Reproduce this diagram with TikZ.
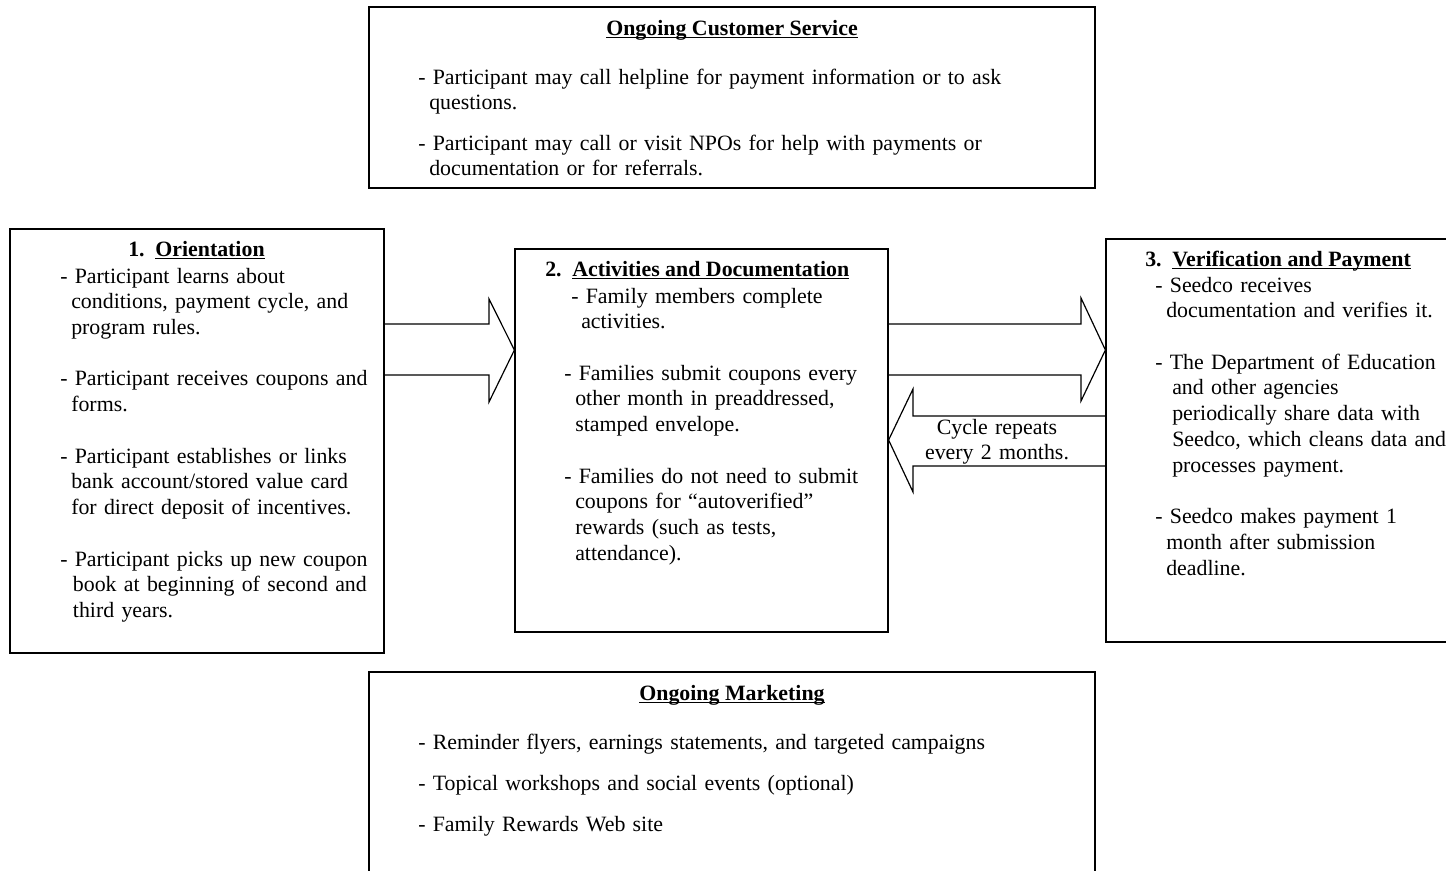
\documentclass[tikz,border=0pt]{standalone}
\usepackage{fontspec}
\setmainfont{Liberation Serif}
\usetikzlibrary{fit}
\newcommand\myul[1]{\setbox0\hbox{#1}\rlap{\rule[-2.4pt]{\wd0}{0.9pt}}\box0}
\newcommand\bodyfont{\fontsize{16.4}{19.3}\selectfont}
\begin{document}
\begin{tikzpicture}[x=0.75pt,y=-0.75pt,
  box/.style={draw,line width=0.9pt,inner sep=0pt},
  txt/.style={anchor=base west,inner sep=0pt,align=left,font=\bodyfont},
  ttl/.style={anchor=base west,inner sep=0pt,font=\bodyfont\bfseries},
  arr/.style={draw,line width=0.9pt,line join=miter}]
\useasboundingbox (0,0) rectangle (1446,871);

% boxes
\node[box,fit={(369,7)(1095,188)}] (cs) {};
\node[box,fit={(10,229)(384,653)}] (ori) {};
\node[box,fit={(515,249)(888,632)}] (act) {};
\node[box,fit={(1106,239)(1452,642)}] (ver) {};
\node[box,fit={(369,672)(1095,880)}] (mkt) {};

% titles
\node[ttl,anchor=base] (cst) at (732,35) {\myul{Ongoing Customer Service}};
\node[ttl,anchor=base] (mktt) at (732,700) {\myul{Ongoing Marketing}};
\node[ttl] (ot) at (128,256) {1.\hspace{8pt}\myul{Orientation}};
\node[ttl] (at) at (545,276) {2.\hspace{8pt}\myul{Activities and Documentation}};
\node[ttl] (vt) at (1145,266) {3.\hspace{8pt}\myul{Verification and Payment}};

% texts
\node[txt,text width=470pt,font=\fontsize{16.4}{18.75}\selectfont] (cstx) at (418,84) {%
- Participant may call helpline for payment information or to ask\\
\hspace*{8.25pt}questions.\\[12pt]
- Participant may call or visit NPOs for help with payments or\\
\hspace*{8.25pt}documentation or for referrals.};

\node[txt,text width=270pt] (otx) at (60,283) {%
- Participant learns about\\
\hspace*{8.25pt}conditions, payment cycle, and\\
\hspace*{8.25pt}program rules.\\[19.3pt]
- Participant receives coupons and\\
\hspace*{8.25pt}forms.\\[19.3pt]
- Participant establishes or links\\
\hspace*{8.25pt}bank account/stored value card\\
\hspace*{8.25pt}for direct deposit of incentives.\\[19.3pt]
- Participant picks up new coupon\\
\hspace*{9.5pt}book at beginning of second and\\
\hspace*{9.5pt}third years.};

\node[txt,text width=270pt] (atx) at (564,303) {%
\hspace*{5.25pt}- Family members complete\\
\hspace*{12.75pt}activities.\\[19.3pt]
- Families submit coupons every\\
\hspace*{8.25pt}other month in preaddressed,\\
\hspace*{8.25pt}stamped envelope.\\[19.3pt]
- Families do not need to submit\\
\hspace*{8.25pt}coupons for “autoverified”\\
\hspace*{8.25pt}rewards (such as tests,\\
\hspace*{8.25pt}attendance).};

\node[txt,text width=270pt] (vtx) at (1155,292) {%
- Seedco receives\\
\hspace*{8.25pt}documentation and verifies it.\\[19.3pt]
- The Department of Education\\
\hspace*{12.75pt}and other agencies\\
\hspace*{12.75pt}periodically share data with\\
\hspace*{12.75pt}Seedco, which cleans data and\\
\hspace*{12.75pt}processes payment.\\[19.3pt]
- Seedco makes payment 1\\
\hspace*{8.25pt}month after submission\\
\hspace*{8.25pt}deadline.};

\node[txt,text width=470pt] (mktx) at (418,749) {%
- Reminder flyers, earnings statements, and targeted campaigns\\[11.5pt]
- Topical workshops and social events (optional)\\[11.5pt]
- Family Rewards Web site};

% arrows
\draw[arr] (ori.east |- 0,324) -- (489,324) -- (489,299) -- (act.west |- 0,350)
  -- (489,402) -- (489,375) -- (ori.east |- 0,375);
\draw[arr] (act.east |- 0,324) -- (1081,324) -- (1081,298) -- (ver.west |- 0,350)
  -- (1081,401) -- (1081,375) -- (act.east |- 0,375);
\draw[arr] (ver.west |- 0,416) -- (913,416) -- (913,389) -- (act.east |- 0,440)
  -- (913,492) -- (913,466) -- (ver.west |- 0,466);

\node[inner sep=0pt,anchor=base,text width=130pt,align=center,font=\bodyfont] (cyc) at (997,434)
  {Cycle repeats\\every 2 months.};
\end{tikzpicture}
\end{document}
